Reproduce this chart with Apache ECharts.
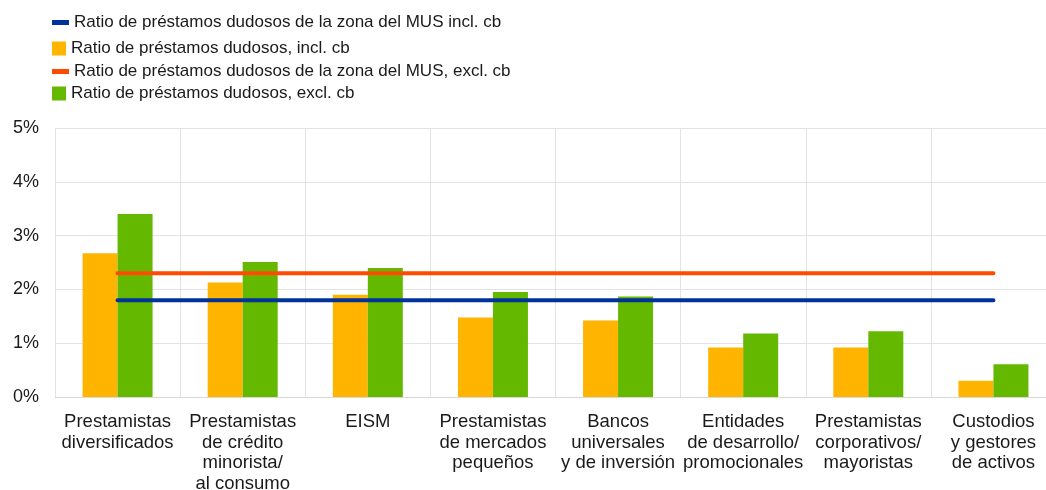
<!DOCTYPE html>
<html><head><meta charset="utf-8">
<script src="https://cdn.jsdelivr.net/npm/echarts@6/dist/echarts.min.js"></script>
<style>html,body{margin:0;padding:0;background:#fff}#c{width:1046px;height:490px}</style>
</head><body><div id="c"></div>
<script>
const categories = [
  "Prestamistas\ndiversificados",
  "Prestamistas\nde crédito\nminorista/\nal consumo",
  "EISM",
  "Prestamistas\nde mercados\npequeños",
  "Bancos\nuniversales\ny de inversión",
  "Entidades\nde desarrollo/\npromocionales",
  "Prestamistas\ncorporativos/\nmayoristas",
  "Custodios\ny gestores\nde activos"
];
const nplInclCb = [2.67, 2.13, 1.90, 1.48, 1.42, 0.92, 0.92, 0.30];
const nplExclCb = [3.40, 2.51, 2.40, 1.95, 1.87, 1.18, 1.22, 0.61];
const ssmInclCb = [1.8, 1.8, 1.8, 1.8, 1.8, 1.8, 1.8, 1.8];
const ssmExclCb = [2.3, 2.3, 2.3, 2.3, 2.3, 2.3, 2.3, 2.3];
const names = [
  "Ratio de préstamos dudosos de la zona del MUS incl. cb",
  "Ratio de préstamos dudosos, incl. cb",
  "Ratio de préstamos dudosos de la zona del MUS, excl. cb",
  "Ratio de préstamos dudosos, excl. cb"
];
const yTicks = [0, 1, 2, 3, 4, 5];

const FONT = "Liberation Sans, Arial, sans-serif";
const COLOR = "#1a1a1a";
function lg(name, top, w, h, left) {
  return {
    data: [name], orient: "vertical", left: left, top: top,
    itemWidth: w, itemHeight: h, icon: "rect", itemGap: 0,
    padding: 0, textStyle: {fontFamily: FONT, fontSize: 17, color: COLOR}
  };
}
const chart = echarts.init(document.getElementById("c"), null, {renderer: "canvas"});
chart.setOption({
  animation: false,
  legend: [
    lg(names[0], 14, 17, 5, 52),
    lg(names[1], 40, 14, 14, 52),
    lg(names[2], 63, 17, 5, 52),
    lg(names[3], 85, 14, 14, 52)
  ],
  grid: {left: 55, right: -10, top: 128, bottom: 93, containLabel: false, outerBoundsMode: "none"},
  xAxis: {
    type: "category", data: categories,
    axisLine: {show: true, lineStyle: {color: "#d9d9d9", width: 1}},
    axisTick: {show: false},
    splitLine: {show: true, lineStyle: {color: "#e3e3e3", width: 1}},
    axisLabel: {fontFamily: FONT, fontSize: 18.5, color: COLOR, interval: 0, margin: 15, lineHeight: 20.5}
  },
  yAxis: {
    type: "value", min: yTicks[0], max: yTicks[yTicks.length - 1], interval: 1,
    axisLine: {show: false}, axisTick: {show: false},
    splitLine: {lineStyle: {color: "#e3e3e3", width: 1}},
    axisLabel: {fontFamily: FONT, fontSize: 18, color: COLOR, formatter: "{value}%", margin: 16}
  },
  series: [
    {name: names[1], type: "bar", data: nplInclCb, barWidth: 35, barGap: "0%",
     itemStyle: {color: "#FFB400"}, z: 2},
    {name: names[3], type: "bar", data: nplExclCb, barWidth: 35, barGap: "0%",
     itemStyle: {color: "#65B800"}, z: 2},
    {name: names[0], type: "line", data: ssmInclCb, symbol: "none",
     lineStyle: {color: "#003299", width: 4, cap: "round"}, itemStyle: {color: "#003299"}, z: 3},
    {name: names[2], type: "line", data: ssmExclCb, symbol: "none",
     lineStyle: {color: "#FF4B00", width: 4, cap: "round"}, itemStyle: {color: "#FF4B00"}, z: 3}
  ]
});
</script></body></html>
